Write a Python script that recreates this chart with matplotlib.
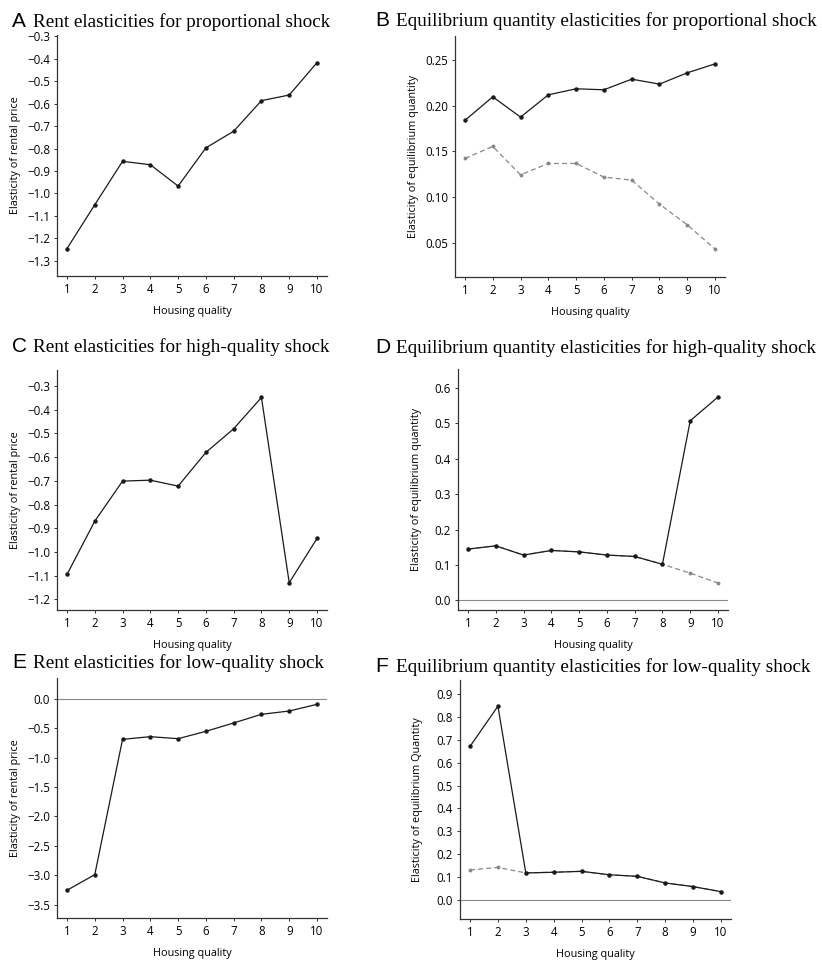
import matplotlib
matplotlib.use("Agg")
import matplotlib.pyplot as plt

# housing quality deciles
quality = [1, 2, 3, 4, 5, 6, 7, 8, 9, 10]

# A: rent elasticities, proportional shock
rent_prop = [-1.245, -1.05, -0.857, -0.872, -0.967, -0.797, -0.723, -0.587, -0.562, -0.418]

# B: equilibrium quantity elasticities, proportional shock
qty_prop = [0.184, 0.2096, 0.1875, 0.2118, 0.2184, 0.2173, 0.2289, 0.2235, 0.2358, 0.2456]
qty_prop_base = [0.1424, 0.1555, 0.1245, 0.1369, 0.1369, 0.122, 0.1187, 0.0925, 0.070, 0.0435]

# C: rent elasticities, high-quality shock
rent_high = [-1.095, -0.870, -0.701, -0.697, -0.722, -0.580, -0.480, -0.348, -1.130, -0.943]

# D: equilibrium quantity elasticities, high-quality shock
qty_high = [0.145, 0.154, 0.128, 0.141, 0.137, 0.128, 0.124, 0.102, 0.507, 0.574]
qty_high_base = [0.145, 0.154, 0.128, 0.141, 0.137, 0.128, 0.124, 0.102, 0.077, 0.049]

# E: rent elasticities, low-quality shock
rent_low = [-3.256, -2.99, -0.691, -0.646, -0.680, -0.555, -0.413, -0.266, -0.210, -0.096]

# F: equilibrium quantity elasticities, low-quality shock
qty_low = [0.672, 0.848, 0.117, 0.120, 0.124, 0.109, 0.102, 0.073, 0.057, 0.035]
qty_low_base = [0.130, 0.141, 0.117, 0.120, 0.124, 0.109, 0.102, 0.073, 0.057, 0.035]

SANS = ["Open Sans", "DejaVu Sans"]
SERIF = ["Liberation Serif", "DejaVu Serif"]
plt.rcParams["font.family"] = SANS
plt.rcParams["axes.unicode_minus"] = True

W, H = 822, 963
fig = plt.figure(figsize=(W / 100, H / 100), dpi=100)


def make_axes(left, right, bottom, top):
    return fig.add_axes([left / W, 1 - bottom / H, (right - left) / W, (bottom - top) / H])


def style(ax, ylim, yticks, fmt, ylabel, zero_line=False):
    ax.set_xlim(0.64, 10.36)
    ax.set_ylim(*ylim)
    ax.set_xticks(quality)
    ax.set_yticks(yticks)
    ax.set_yticklabels([fmt.format(t).replace("-", "\u2212") for t in yticks])
    for s in ("top", "right"):
        ax.spines[s].set_visible(False)
    for s in ("left", "bottom"):
        ax.spines[s].set_color("#333333")
        ax.spines[s].set_linewidth(0.9)
    ax.tick_params(labelsize=8.3, length=2, width=0.7, color="#333333", pad=3)
    ax.set_xlabel("Housing quality", fontsize=7.8)
    ax.set_ylabel(ylabel, fontsize=7.8)
    ax.xaxis.set_label_coords(0.5, -0.125)
    ax.yaxis.set_label_coords(-0.135, 0.5)
    if zero_line:
        ax.axhline(0, color="#888888", lw=0.8, zorder=1)


def draw(ax, values, dashed=False):
    if dashed:
        ax.plot(quality, values, color="#888888", lw=0.9, ls=(0, (4, 2.5)),
                marker="o", ms=1.8, zorder=2)
    else:
        ax.plot(quality, values, color="#1a1a1a", lw=0.9, marker="o", ms=2.2, zorder=3)


def title(x, y, letter, text):
    fig.text(x, 1 - y / H, letter, fontsize=15, family=["Liberation Sans", "DejaVu Sans"],
             va="baseline", ha="left")
    fig.text(x + 21 / W, 1 - y / H, text, fontsize=13.8, family=SERIF, va="baseline", ha="left")


# A
ax = make_axes(57, 327, 276, 35)
draw(ax, rent_prop)
style(ax, (-1.367, -0.295), [-0.3 - 0.1 * i for i in range(11)], "{:.1f}",
      "Elasticity of rental price")
title(12 / W, 27, "A", "Rent elasticities for proportional shock")

# B
ax = make_axes(455, 725, 277, 36)
draw(ax, qty_prop_base, dashed=True)
draw(ax, qty_prop)
style(ax, (0.013, 0.276), [0.05, 0.10, 0.15, 0.20, 0.25], "{:.2f}",
      "Elasticity of equilibrium quantity")
title(375 / W, 26, "B", "Equilibrium quantity elasticities for proportional shock")

# C
ax = make_axes(57, 327, 610, 370)
draw(ax, rent_high)
style(ax, (-1.245, -0.232), [-0.3 - 0.1 * i for i in range(10)], "{:.1f}",
      "Elasticity of rental price")
title(12 / W, 352, "C", "Rent elasticities for high-quality shock")

# D
ax = make_axes(458, 728, 610, 369)
draw(ax, qty_high_base, dashed=True)
draw(ax, qty_high)
style(ax, (-0.027, 0.653), [0.0, 0.1, 0.2, 0.3, 0.4, 0.5, 0.6], "{:.1f}",
      "Elasticity of equilibrium quantity", zero_line=True)
title(375 / W, 353, "D", "Equilibrium quantity elasticities for high-quality shock")

# E
ax = make_axes(57, 327, 918, 678)
draw(ax, rent_low)
style(ax, (-3.727, 0.351), [0.0, -0.5, -1.0, -1.5, -2.0, -2.5, -3.0, -3.5], "{:.1f}",
      "Elasticity of rental price", zero_line=True)
title(12 / W, 668, "E", "Rent elasticities for low-quality shock")

# F
ax = make_axes(460, 731, 919, 680)
draw(ax, qty_low_base, dashed=True)
draw(ax, qty_low)
style(ax, (-0.085, 0.963), [0.1 * i for i in range(10)], "{:.1f}",
      "Elasticity of equilibrium Quantity", zero_line=True)
title(375 / W, 672, "F", "Equilibrium quantity elasticities for low-quality shock")

fig.savefig("out.png", dpi=100)
